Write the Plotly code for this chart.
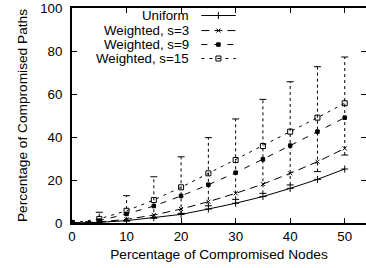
import plotly.graph_objects as go

x = [0, 5, 10, 15, 20, 25, 30, 35, 40, 45, 50]
uniform = [0, 0.3, 1.1, 2.5, 4.0, 6.5, 9.2, 12.3, 16.1, 20.3, 25.1]
s3 = [0, 0.5, 1.7, 3.7, 6.5, 9.9, 13.8, 18.1, 23.1, 28.5, 34.7]
s9 = [0, 1.1, 4.2, 7.9, 12.6, 17.8, 23.4, 29.6, 36.0, 42.5, 49.0]
s15 = [0, 1.9, 5.7, 10.7, 16.6, 23.1, 29.3, 35.8, 42.5, 49.0, 55.7]
s15_low = [0, 0.2, 0.9, 2.2, 4.5, 8.0, 11.0, 13.8, 17.7, 23.9, 31.6]
s15_high = [0, 5.0, 12.7, 21.5, 30.8, 39.7, 48.4, 57.5, 65.7, 72.7, 77.2]
x_ticks = [0, 10, 20, 30, 40, 50]
y_ticks = [0, 20, 40, 60, 80, 100]
names = ["Uniform", "Weighted, s=3", "Weighted, s=9", "Weighted, s=15"]

FONT = "Liberation Sans, Arial, sans-serif"
FS = 13.3
fig = go.Figure()

# error bars (dashed vertical) for s=15
ex, ey = [], []
for xi, lo, hi in zip(x[1:], s15_low[1:], s15_high[1:]):
    ex += [xi, xi, None]
    ey += [lo, hi, None]
fig.add_trace(go.Scatter(x=ex, y=ey, mode="lines",
                         line=dict(color="black", width=1, dash="3px,3px"),
                         showlegend=False, hoverinfo="skip"))
fig.add_trace(go.Scatter(x=x[1:] + x[1:], y=s15_low[1:] + s15_high[1:], mode="markers",
                         marker=dict(symbol="line-ew", size=5, line=dict(color="black", width=1)),
                         showlegend=False, hoverinfo="skip"))

styles = [
    (uniform, "solid", "cross-thin", 5, "black"),
    (s3, "8px,5px", "x-thin", 4, "black"),
    (s9, "6px,7px", "square", 3.5, "black"),
    (s15, "3px,5px", "square-open", 5, "black"),
]
for (vals, dash, sym, size, col), nm in zip(styles, names):
    fig.add_trace(go.Scatter(x=x, y=vals, mode="lines+markers", name=nm,
                             line=dict(color="black", width=1, dash=dash),
                             marker=dict(symbol=sym, size=size, color=col,
                                         line=dict(color="black", width=1)),
                             showlegend=False))

# manual gnuplot-style legend (text right, sample left-to-right)
leg_y = [0.965, 0.895, 0.83, 0.765]
for (vals, dash, sym, size, col), nm, ly in zip(styles, names, leg_y):
    fig.add_trace(go.Scatter(x=[0.44, 0.557], y=[ly, ly], mode="lines",
                             line=dict(color="black", width=1, dash=dash),
                             xaxis="x2", yaxis="y2", showlegend=False, hoverinfo="skip"))
    fig.add_trace(go.Scatter(x=[0.498], y=[ly], mode="markers",
                             marker=dict(symbol=sym, size=size, color=col,
                                         line=dict(color="black", width=1)),
                             xaxis="x2", yaxis="y2", showlegend=False, hoverinfo="skip"))
    fig.add_annotation(x=0.404, y=ly, xref="x2", yref="y2", text=nm, showarrow=False,
                       xanchor="right", yanchor="middle",
                       font=dict(family=FONT, size=FS, color="black"))

fig.update_layout(
    width=366, height=268,
    margin=dict(l=72, r=0, t=8, b=45),
    plot_bgcolor="white", paper_bgcolor="white",
    font=dict(family=FONT, size=FS, color="black"),
    xaxis=dict(range=[0, 53.9], tickvals=x_ticks, ticks="inside", ticklen=5,
               tickcolor="black", showline=True, linecolor="black", linewidth=2,
               mirror="ticks", showgrid=False, zeroline=False, automargin=False,
               title=dict(text="Percentage of Compromised Nodes", standoff=6,
                          font=dict(size=13.7))),
    yaxis=dict(range=[0, 100], tickvals=y_ticks, ticks="inside", ticklen=5,
               tickcolor="black", showline=True, linecolor="black", linewidth=2,
               mirror="ticks", showgrid=False, zeroline=False, automargin=False,
               ticklabelstandoff=5,
               title=dict(text="Percentage of Compromised Paths", standoff=9,
                          font=dict(size=13.7))),
    xaxis2=dict(range=[0, 1], overlaying="x", visible=False, fixedrange=True),
    yaxis2=dict(range=[0, 1], overlaying="y", visible=False, fixedrange=True),
)

fig.write_html("out.html", config={"displayModeBar": False},
               post_script="document.body.style.margin='0';")
